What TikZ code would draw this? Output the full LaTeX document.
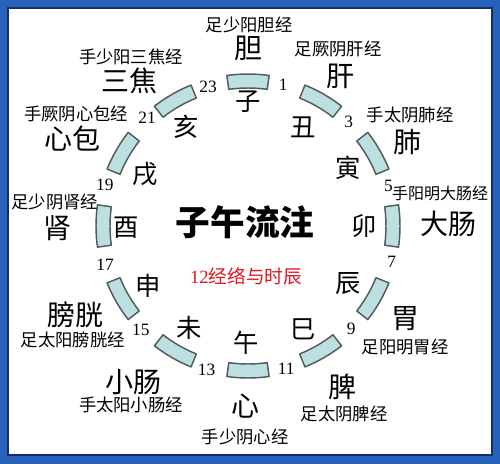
\documentclass[tikz,border=0pt]{standalone}
\usepackage{fontspec}
\setmainfont{Liberation Serif}
\newfontfamily\cjk{Noto Sans CJK SC}
\definecolor{frameblue}{RGB}{38,98,186}
\definecolor{framedark}{RGB}{20,45,110}
\definecolor{segfill}{RGB}{188,224,226}
\definecolor{segline}{RGB}{85,90,90}
\definecolor{titlered}{RGB}{228,22,32}
\tikzset{
  seg/.style={draw=segline, fill=segfill, line width=1.1pt, line join=round},
  branch/.style={inner sep=0.75pt, font=\cjk\fontsize{19}{19}\selectfont},
  organ/.style={inner sep=0.75pt, font=\cjk\fontsize{21}{21}\selectfont},
  meridian/.style={inner sep=0.75pt, font=\cjk\fontsize{13}{13}\selectfont},
  hour/.style={inner sep=0.75pt, font=\fontsize{13}{13}\selectfont},
}
\begin{document}
\begin{tikzpicture}[x=0.75pt,y=0.75pt,yscale=-1,xscale=1]
\useasboundingbox (0,0) rectangle (500,464);

%Shape: Frame
\fill [frameblue] (0,0) rectangle (500,464);
\draw [fill=white, draw=framedark, line width=0.9pt] (8,8) rectangle (492,455);

\begin{scope}[shift={(248,226)}]
%Shape: Block Arc (zi)
\draw [seg] (-98:138) arc[start angle=-98, end angle=-82, radius=138] -- (-82:152) arc[start angle=-82, end angle=-98, radius=152] -- cycle;
%Shape: Block Arc (chou)
\draw [seg] (-68:138) arc[start angle=-68, end angle=-52, radius=138] -- (-52:152) arc[start angle=-52, end angle=-68, radius=152] -- cycle;
%Shape: Block Arc (yin)
\draw [seg] (-38:138) arc[start angle=-38, end angle=-22, radius=138] -- (-22:152) arc[start angle=-22, end angle=-38, radius=152] -- cycle;
%Shape: Block Arc (mao)
\draw [seg] (-8:138) arc[start angle=-8, end angle=8, radius=138] -- (8:152) arc[start angle=8, end angle=-8, radius=152] -- cycle;
%Shape: Block Arc (chen)
\draw [seg] (22:138) arc[start angle=22, end angle=38, radius=138] -- (38:152) arc[start angle=38, end angle=22, radius=152] -- cycle;
%Shape: Block Arc (si)
\draw [seg] (52:138) arc[start angle=52, end angle=68, radius=138] -- (68:152) arc[start angle=68, end angle=52, radius=152] -- cycle;
%Shape: Block Arc (wu)
\draw [seg] (82:138) arc[start angle=82, end angle=98, radius=138] -- (98:152) arc[start angle=98, end angle=82, radius=152] -- cycle;
%Shape: Block Arc (wei)
\draw [seg] (112:138) arc[start angle=112, end angle=128, radius=138] -- (128:152) arc[start angle=128, end angle=112, radius=152] -- cycle;
%Shape: Block Arc (shen)
\draw [seg] (142:138) arc[start angle=142, end angle=158, radius=138] -- (158:152) arc[start angle=158, end angle=142, radius=152] -- cycle;
%Shape: Block Arc (you)
\draw [seg] (172:138) arc[start angle=172, end angle=188, radius=138] -- (188:152) arc[start angle=188, end angle=172, radius=152] -- cycle;
%Shape: Block Arc (xu)
\draw [seg] (202:138) arc[start angle=202, end angle=218, radius=138] -- (218:152) arc[start angle=218, end angle=202, radius=152] -- cycle;
%Shape: Block Arc (hai)
\draw [seg] (232:138) arc[start angle=232, end angle=248, radius=138] -- (248:152) arc[start angle=248, end angle=232, radius=152] -- cycle;

% Text Node
\node [branch] (zi) at (-90:124) {子};
% Text Node
\node [branch] (chou) at (-61:113) {丑};
% Text Node
\node [branch] (yin) at (-30:116) {寅};
% Text Node
\node [branch] (mao) at (0:116) {卯};
% Text Node
\node [branch] (chen) at (30:116) {辰};
% Text Node
\node [branch] (si) at (62:117) {巳};
% Text Node
\node [branch] (wu) at (91:117) {午};
% Text Node
\node [branch] (wei) at (120:118) {未};
% Text Node
\node [branch] (shen) at (149:117) {申};
% Text Node
\node [branch] (you) at (179:122) {酉};
% Text Node
\node [branch] (xu) at (207:115) {戌};
% Text Node
\node [branch] (hai) at (238:117) {亥};

% Text Node
\node [hour] (h1) at (-76:146) {1};
% Text Node
\node [hour] (h3) at (-46:145) {3};
% Text Node
\node [hour] (h5) at (-16:146) {5};
% Text Node
\node [hour] (h7) at (14:148) {7};
% Text Node
\node [hour] (h9) at (45:146) {9};
% Text Node
\node [hour] (h11) at (75:148) {11};
% Text Node
\node [hour] (h13) at (106:150) {13};
% Text Node
\node [hour] (h15) at (136:149) {15};
% Text Node
\node [hour] (h17) at (165:148) {17};
% Text Node
\node [hour] (h19) at (196:149) {19};
% Text Node
\node [hour] (h21) at (227:148) {21};
% Text Node
\node [hour] (h23) at (254:145) {23};
\end{scope}

% Text Node
\node [organ] (dan) at (248,48) {胆};
\node [meridian] (danjing) at (249,25) {足少阳胆经};
% Text Node
\node [organ] (gan) at (340,76) {肝};
\node [meridian] (ganjing) at (338,49) {足厥阴肝经};
% Text Node
\node [organ] (fei) at (407,142) {肺};
\node [meridian] (feijing) at (410,115) {手太阴肺经};
% Text Node
\node [organ] (dachang) at (448,224) {大肠};
\node [meridian, font=\cjk\fontsize{12}{12}\selectfont] (dachangjing) at (440,193) {手阳明大肠经};
% Text Node
\node [organ] (wei) at (405,319) {胃};
\node [meridian] (weijing) at (405,347) {足阳明胃经};
% Text Node
\node [organ] (pi) at (342,387) {脾};
\node [meridian] (pijing) at (344,414) {足太阴脾经};
% Text Node
\node [organ] (xin) at (245,406) {心};
\node [meridian] (xinjing) at (245,437) {手少阴心经};
% Text Node
\node [organ] (xiaochang) at (133,382) {小肠};
\node [meridian] (xiaochangjing) at (131,405) {手太阳小肠经};
% Text Node
\node [organ] (pangguang) at (75,315) {膀胱};
\node [meridian] (pangguangjing) at (73,340) {足太阳膀胱经};
% Text Node
\node [organ] (shen) at (57,228) {肾};
\node [meridian] (shenjing) at (55,202) {足少阴肾经};
% Text Node
\node [organ] (xinbao) at (73,139) {心包};
\node [meridian] (xinbaojing) at (76,114) {手厥阴心包经};
% Text Node
\node [organ] (sanjiao) at (129,81) {三焦};
\node [meridian] (sanjiaojing) at (131,57) {手少阳三焦经};

% Text Node
\node [inner sep=0.75pt, font=\cjk\bfseries\fontsize{26}{26}\selectfont] (title) at (245,222) {子午流注};
% Text Node
\node [inner sep=0.75pt, text=titlered, font=\fontsize{14}{14}\selectfont] (subtitle) at (246,276) {12{\cjk 经络与时辰}};

\end{tikzpicture}
\end{document}
